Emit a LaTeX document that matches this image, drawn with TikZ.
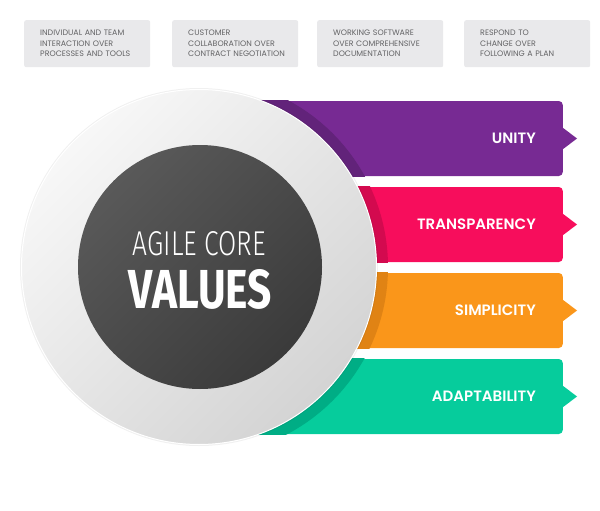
\documentclass[tikz,border=0pt]{standalone}
\usepackage{fontspec}
\usepackage{graphicx}
\setmainfont{Poppins}[BoldFont={Poppins SemiBold}]
\newfontfamily\corefont{Fira Sans}[UprightFont={Fira Sans Light}, BoldFont={Fira Sans Bold}]

\definecolor{boxgray}{HTML}{E9E9EB}
\definecolor{textgray}{HTML}{636365}
\definecolor{unityc}{HTML}{772A93}
\definecolor{unityd}{HTML}{62237A}
\definecolor{transc}{HTML}{F70D5C}
\definecolor{transd}{HTML}{D30A4F}
\definecolor{simpc}{HTML}{FA961A}
\definecolor{simpd}{HTML}{E08314}
\definecolor{adaptc}{HTML}{06CC9C}
\definecolor{adaptd}{HTML}{00AD85}

\begin{document}
\begin{tikzpicture}[x=1pt,y=-1pt,
  topbox/.style={fill=boxgray, rounded corners=2pt, minimum width=126pt,
    minimum height=47pt, text width=94pt, inner xsep=16pt, inner ysep=0pt,
    align=left, anchor=north west, text=textgray,
    font=\fontsize{7.9}{10.5}\selectfont},
  band/.style={rounded corners=4pt, minimum width=363pt, minimum height=75pt,
    inner sep=0pt, anchor=east},
  bandlabel/.style={font=\fontsize{15}{16}\selectfont\bfseries, text=white,
    anchor=east, inner sep=0pt},
  corelabel/.style={text=white, inner sep=0pt}
]
\useasboundingbox (0,0) rectangle (600,511);

% the four value statements
\node[topbox] (v1) at (24,20)  {\mbox{INDIVIDUAL AND TEAM}\\\mbox{INTERACTION OVER}\\\mbox{PROCESSES AND TOOLS}};
\node[topbox] (v2) at (172,20) {\mbox{CUSTOMER}\\\mbox{COLLABORATION OVER}\\\mbox{CONTRACT NEGOTIATION}};
\node[topbox] (v3) at (317,20) {\mbox{WORKING SOFTWARE}\\\mbox{OVER COMPREHENSIVE}\\\mbox{DOCUMENTATION}};
\node[topbox] (v4) at (464,20) {\mbox{RESPOND TO}\\\mbox{CHANGE OVER}\\\mbox{FOLLOWING A PLAN}};

% coloured bands with arrow tips and the darker rim next to the disc
\foreach \nm/\yy/\main/\dark/\txt in {
  unity/138.5/unityc/unityd/UNITY,
  transparency/224.5/transc/transd/TRANSPARENCY,
  simplicity/310.5/simpc/simpd/SIMPLICITY,
  adaptability/396.5/adaptc/adaptd/ADAPTABILITY}{
  \node[band, fill=\main] (\nm) at (563,\yy) {};
  \fill[\main] ([xshift=-0.5pt,yshift=11pt]\nm.east) -- ([xshift=14pt]\nm.east)
    -- ([xshift=-0.5pt,yshift=-11pt]\nm.east) -- cycle;
  \begin{scope}
    \clip (\nm.south west) rectangle (\nm.north east);
    \fill[\dark] (199,267) circle[radius=189];
  \end{scope}
  \node[bandlabel] (\nm-label) at (536,\yy) {\txt};
}

% central disc
\fill[black, opacity=0.06] (199,267) circle[radius=179];
\node[circle, minimum size=355pt, inner sep=0pt, draw=white, line width=1pt,
  shading=axis, top color=white!97!black, bottom color=white!83!black,
  shading angle=45] (outer) at (199,267) {};
\node[circle, minimum size=244pt, inner sep=0pt,
  shading=axis, top color=black!65, bottom color=black!77,
  shading angle=45] (inner) at (200,267) {};

\node[corelabel] (agile) at (199.5,244) {\resizebox{133pt}{24pt}{\corefont AGILE CORE}};
\node[corelabel] (values) at (200.5,289.5) {\resizebox{143pt}{39pt}{\corefont\bfseries VALUES}};
\end{tikzpicture}
\end{document}
